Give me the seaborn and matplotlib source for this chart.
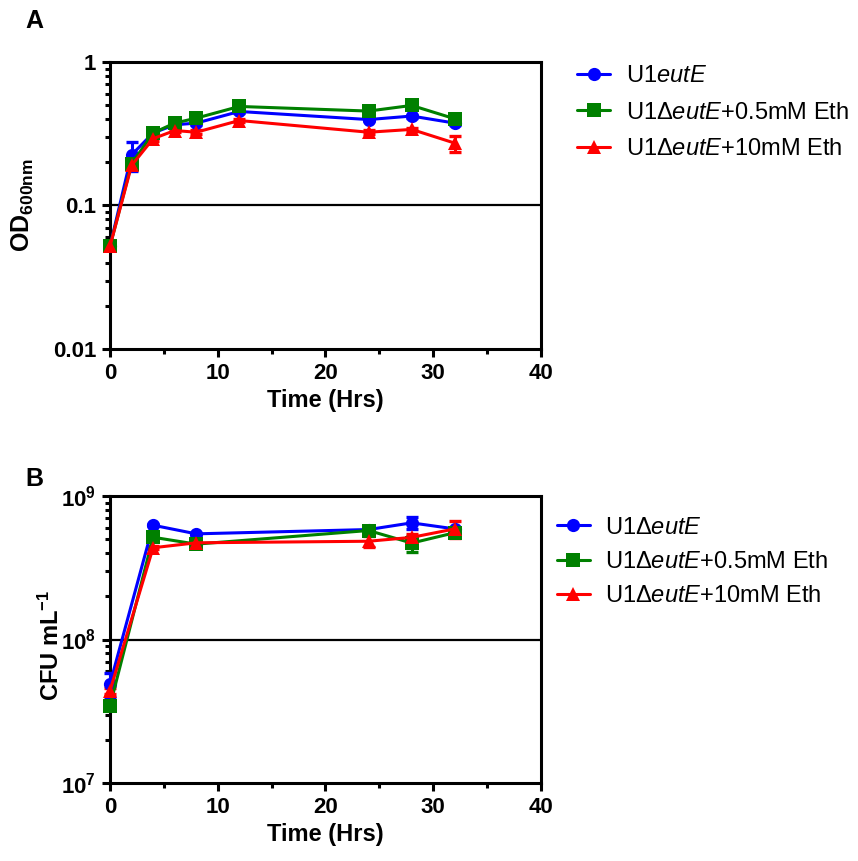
import numpy as np
import pandas as pd
import matplotlib
matplotlib.use("Agg")
import matplotlib.pyplot as plt
import seaborn as sns
from matplotlib.ticker import LogLocator, FixedLocator, NullFormatter, MultipleLocator

# ---------------- data ----------------
time_od = [0, 2, 4, 6, 8, 12, 24, 28, 32]
od_blue = [0.052, 0.225, 0.32, 0.365, 0.375, 0.452, 0.397, 0.42, 0.375]
od_green = [0.052, 0.195, 0.32, 0.375, 0.406, 0.49, 0.455, 0.498, 0.402]
od_red = [0.052, 0.19, 0.292, 0.333, 0.324, 0.391, 0.324, 0.339, 0.272]
od_blue_err = [0.002, 0.05, 0.01, 0.01, 0.01, 0.01, 0.01, 0.01, 0.01]
od_green_err = [0.002, 0.01, 0.01, 0.01, 0.01, 0.01, 0.01, 0.01, 0.01]
od_red_err = [0.002, 0.01, 0.01, 0.01, 0.01, 0.01, 0.01, 0.01, 0.035]

time_cfu = [0, 4, 8, 24, 28, 32]
cfu_blue = [4.9e7, 6.26e8, 5.45e8, 5.84e8, 6.5e8, 5.9e8]
cfu_green = [3.45e7, 5.16e8, 4.62e8, 5.75e8, 4.7e8, 5.55e8]
cfu_red = [4.4e7, 4.36e8, 4.72e8, 4.84e8, 5.15e8, 5.9e8]
cfu_blue_err = [0.9e7, 0.1e8, 0.1e8, 0.1e8, 0.65e8, 0.1e8]
cfu_green_err = [0.2e7, 0.1e8, 0.1e8, 0.25e8, 0.6e8, 0.1e8]
cfu_red_err = [0.2e7, 0.1e8, 0.1e8, 0.4e8, 0.3e8, 0.8e8]

labels_a = ["U1$\\mathit{eutE}$", "U1\u0394$\\mathit{eutE}$+0.5mM Eth", "U1\u0394$\\mathit{eutE}$+10mM Eth"]
labels_b = ["U1\u0394$\\mathit{eutE}$", "U1\u0394$\\mathit{eutE}$+0.5mM Eth", "U1\u0394$\\mathit{eutE}$+10mM Eth"]
colors = ["#0000ff", "#008000", "#ff0000"]
markers = ["o", "s", "^"]

# ---------------- style ----------------
sns.set_style("ticks")
plt.rcParams["font.family"] = ["Liberation Sans", "DejaVu Sans"]
plt.rcParams["mathtext.fontset"] = "custom"
plt.rcParams["mathtext.rm"] = "Liberation Sans"
plt.rcParams["mathtext.it"] = "Liberation Sans:italic"
plt.rcParams["mathtext.bf"] = "Liberation Sans:bold"
for k in ["text.color", "axes.labelcolor", "xtick.color", "ytick.color",
          "xtick.labelcolor", "ytick.labelcolor"]:
    plt.rcParams[k] = "black"

fig = plt.figure(figsize=(8.58, 8.61), dpi=100)
axA = fig.add_axes([0.1282, 0.5947, 0.5023, 0.3333])
axB = fig.add_axes([0.1282, 0.0906, 0.5023, 0.3333])


def draw(ax, t, series, errs, labels):
    rows = []
    for lab, vals in zip(labels, series):
        for ti, v in zip(t, vals):
            rows.append({"t": ti, "v": v, "grp": lab})
    df = pd.DataFrame(rows)
    for lab, vals, err, c in zip(labels, series, errs, colors):
        ax.errorbar(t, vals, yerr=err, fmt="none", ecolor=c, elinewidth=2.2,
                    capsize=4.5, capthick=2.4, clip_on=False, zorder=3)
    sns.lineplot(data=df, x="t", y="v", hue="grp", style="grp",
                 hue_order=labels, style_order=labels,
                 palette=dict(zip(labels, colors)),
                 markers=dict(zip(labels, markers)), dashes=False,
                 markersize=9.5, markeredgewidth=0, linewidth=2.2,
                 ax=ax, clip_on=False, zorder=4, legend=True)
    ax.set_yscale("log")
    ax.set_xlim(0, 40)
    ax.xaxis.set_major_locator(FixedLocator([0, 10, 20, 30, 40]))
    ax.xaxis.set_minor_locator(MultipleLocator(5))
    for s in ax.spines.values():
        s.set_linewidth(2.2)
        s.set_color("black")
    ax.tick_params(axis="both", which="major", length=6, width=2.2,
                   labelsize=16, direction="out", color="black",
                   labelcolor="black", pad=4)
    ax.tick_params(axis="both", which="minor", length=3.5, width=2.2, color="black")
    for lbl in ax.get_xticklabels() + ax.get_yticklabels():
        lbl.set_fontweight("bold")
    ax.set_xlabel("Time (Hrs)", fontsize=17, fontweight="bold", labelpad=4, color="black")


draw(axA, time_od, [od_blue, od_green, od_red],
     [od_blue_err, od_green_err, od_red_err], labels_a)
axA.set_ylim(0.01, 1)
axA.yaxis.set_major_locator(FixedLocator([0.01, 0.1, 1]))
axA.set_yticklabels(["0.01", "0.1", "1"], fontweight="bold", fontsize=16)
axA.yaxis.set_minor_locator(LogLocator(base=10, subs=np.arange(2, 10)))
axA.yaxis.set_minor_formatter(NullFormatter())
axA.axhline(0.1, color="black", lw=1.6, zorder=1)
axA.set_ylabel(r"$\mathbf{OD_{600nm}}$", fontsize=18, color="black")
axA.yaxis.set_label_coords(-0.172, 0.5)

draw(axB, time_cfu, [cfu_blue, cfu_green, cfu_red],
     [cfu_blue_err, cfu_green_err, cfu_red_err], labels_b)
axB.set_ylim(1e7, 1e9)
axB.yaxis.set_major_locator(FixedLocator([1e7, 1e8, 1e9]))
axB.set_yticklabels([r"$\mathbf{10^{7}}$", r"$\mathbf{10^{8}}$", r"$\mathbf{10^{9}}$"], fontsize=16)
axB.yaxis.set_minor_locator(LogLocator(base=10, subs=np.arange(2, 10)))
axB.yaxis.set_minor_formatter(NullFormatter())
axB.axhline(1e8, color="black", lw=1.6, zorder=1)
axB.set_ylabel(r"$\mathbf{CFU\ mL^{-1}}$", fontsize=17, color="black")
axB.yaxis.set_label_coords(-0.108, 0.48)

axA.legend(loc="upper left", bbox_to_anchor=(0.673, 0.924), bbox_transform=fig.transFigure,
           frameon=False, fontsize=17, handlelength=1.4, labelspacing=0.6,
           handletextpad=0.65, borderaxespad=0, borderpad=0, labelcolor="black")
axB.legend(loc="upper left", bbox_to_anchor=(0.649, 0.4), bbox_transform=fig.transFigure,
           frameon=False, fontsize=17, handlelength=1.4, labelspacing=0.52,
           handletextpad=0.65, borderaxespad=0, borderpad=0, labelcolor="black")

fig.text(0.029, 0.99, "A", fontsize=18, fontweight="bold", va="top", color="black")
fig.text(0.029, 0.458, "B", fontsize=18, fontweight="bold", va="top", color="black")

fig.savefig("out.png", dpi=100)
